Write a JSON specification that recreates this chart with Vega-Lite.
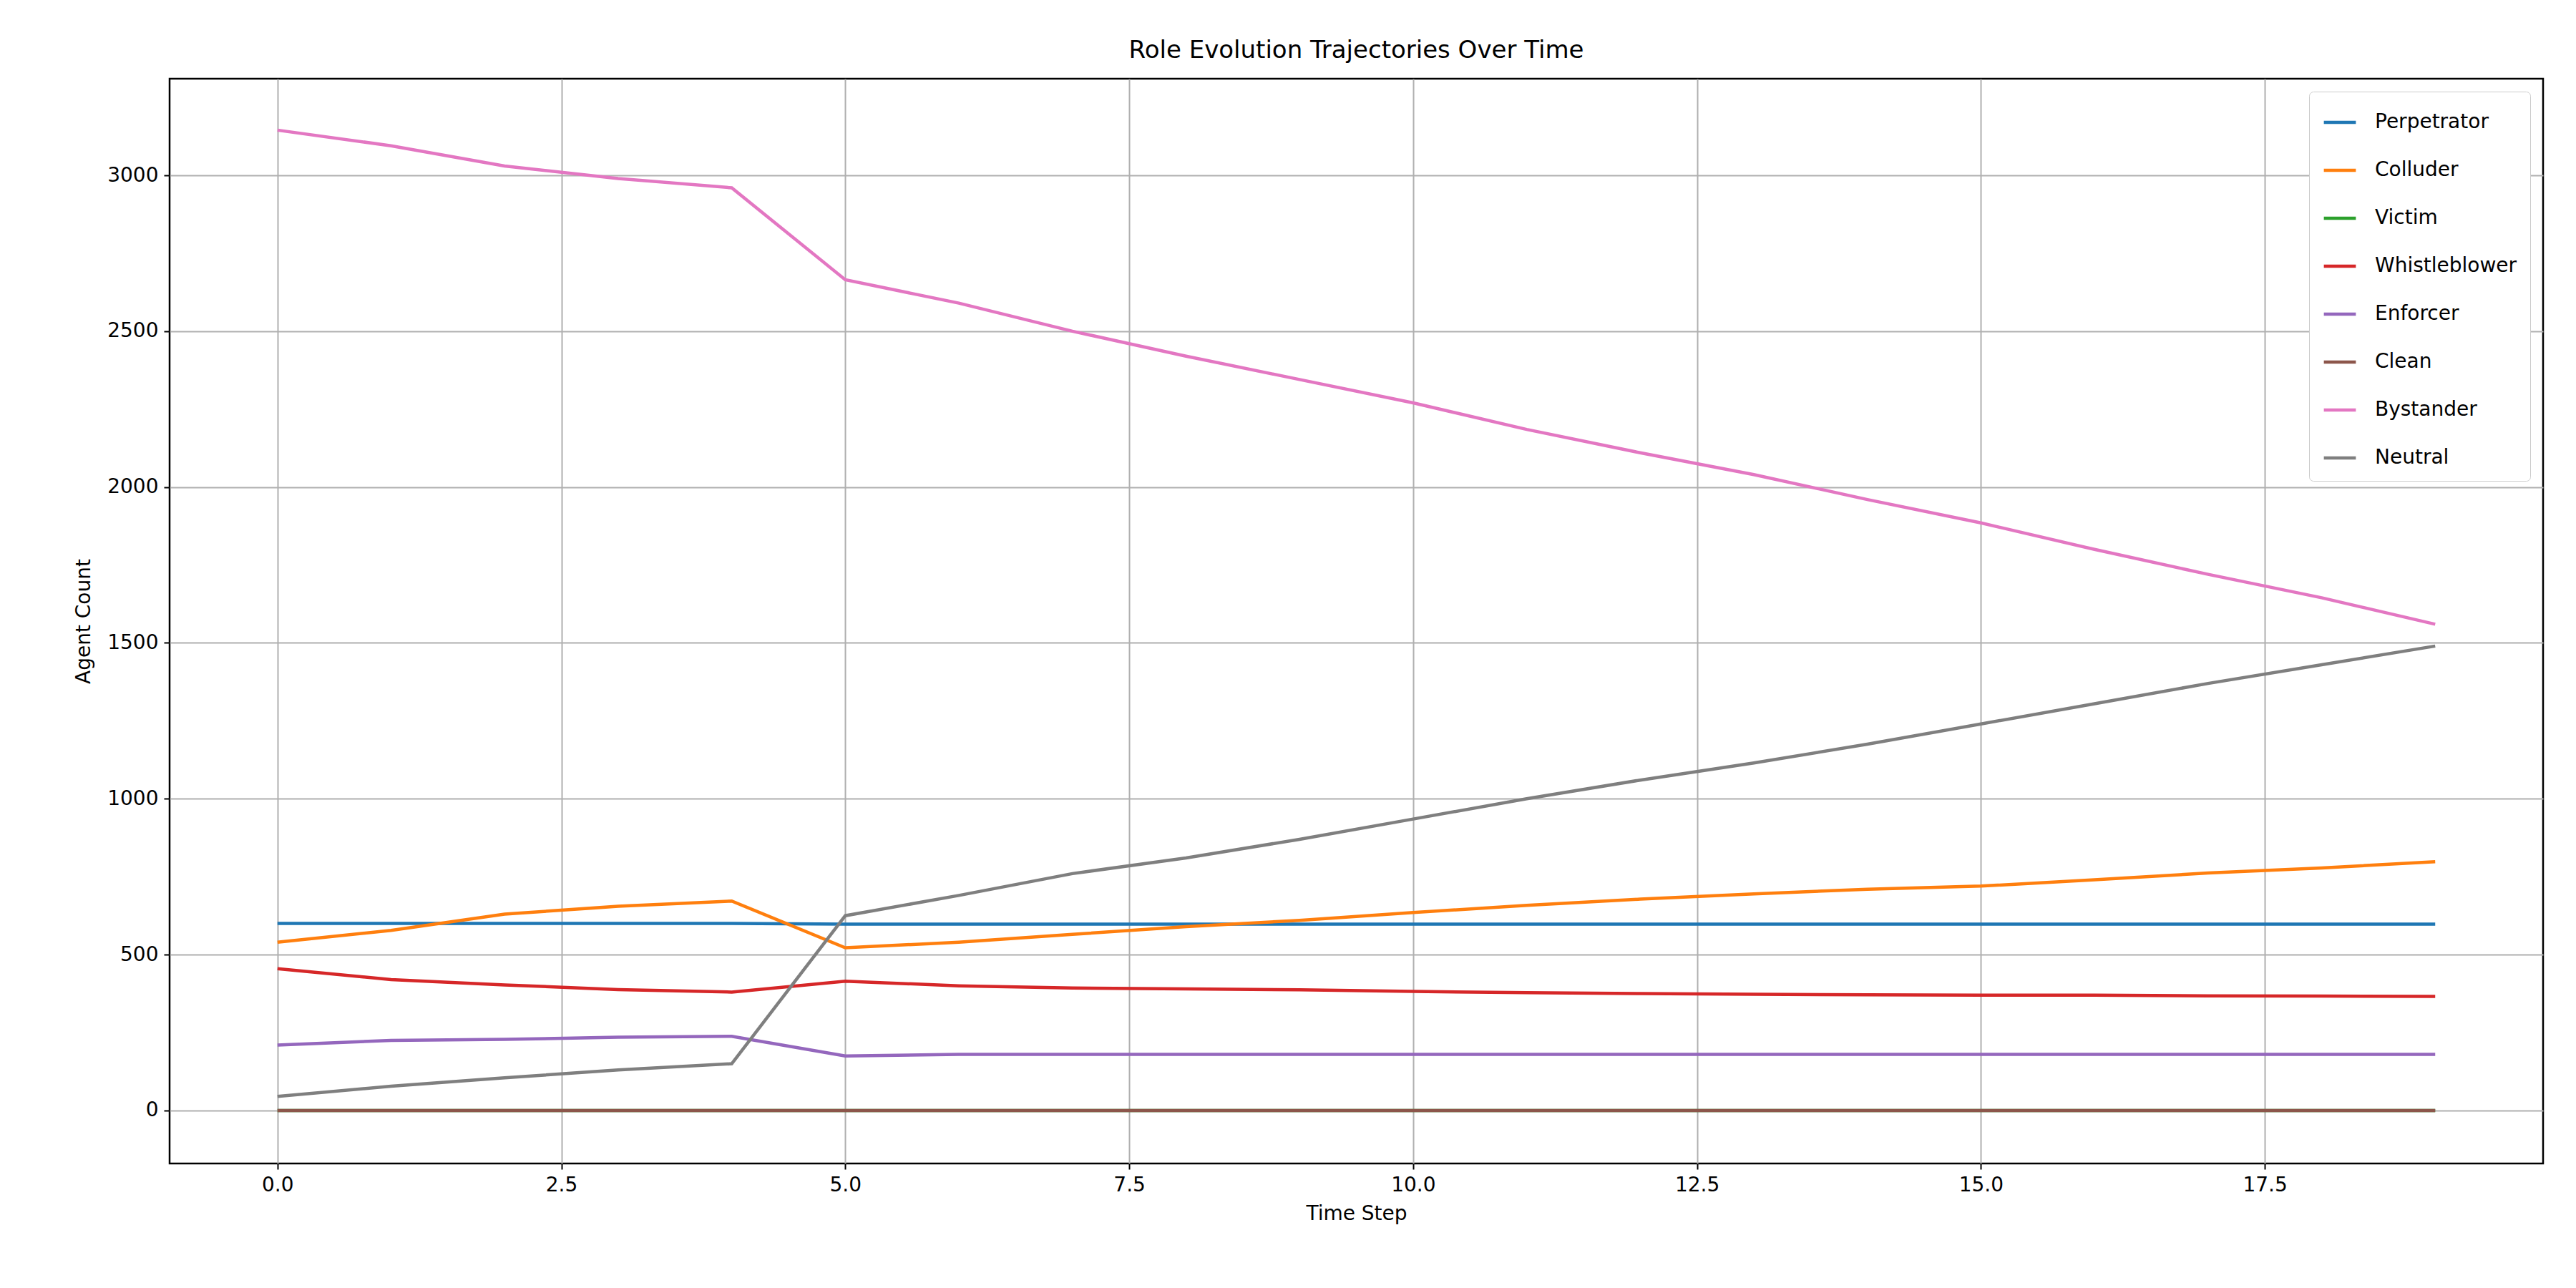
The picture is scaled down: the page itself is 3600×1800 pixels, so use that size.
{"$schema":"https://vega.github.io/schema/vega-lite/v6.json","width":3317,"height":1516,"autosize":"none","padding":{"left":237,"top":110,"right":46,"bottom":174},"background":"white",
"title":{"text":"Role Evolution Trajectories Over Time","fontSize":34,"font":"DejaVu Sans","fontWeight":"normal","offset":22},
"config":{"font":"DejaVu Sans","view":{"stroke":"black","strokeWidth":2.5},"axis":{"labelFontSize":28,"titleFontSize":28,"titleFontWeight":"normal","grid":true,"gridColor":"#b0b0b0","gridWidth":2,"domain":false,"tickColor":"black","tickSize":8,"tickWidth":2,"labelColor":"black","titleColor":"black","labelPadding":8}},
"data":{"values":[
{"t":0,"r":"Perpetrator","v":600},{"t":1,"r":"Perpetrator","v":600},{"t":2,"r":"Perpetrator","v":600},{"t":3,"r":"Perpetrator","v":600},{"t":4,"r":"Perpetrator","v":600},{"t":5,"r":"Perpetrator","v":598},{"t":6,"r":"Perpetrator","v":598},{"t":7,"r":"Perpetrator","v":598},{"t":8,"r":"Perpetrator","v":598},{"t":9,"r":"Perpetrator","v":598},{"t":10,"r":"Perpetrator","v":598},{"t":11,"r":"Perpetrator","v":598},{"t":12,"r":"Perpetrator","v":598},{"t":13,"r":"Perpetrator","v":598},{"t":14,"r":"Perpetrator","v":598},{"t":15,"r":"Perpetrator","v":598},{"t":16,"r":"Perpetrator","v":598},{"t":17,"r":"Perpetrator","v":598},{"t":18,"r":"Perpetrator","v":598},{"t":19,"r":"Perpetrator","v":598},
{"t":0,"r":"Colluder","v":540},{"t":1,"r":"Colluder","v":578},{"t":2,"r":"Colluder","v":630},{"t":3,"r":"Colluder","v":655},{"t":4,"r":"Colluder","v":672},{"t":5,"r":"Colluder","v":522},{"t":6,"r":"Colluder","v":540},{"t":7,"r":"Colluder","v":565},{"t":8,"r":"Colluder","v":590},{"t":9,"r":"Colluder","v":610},{"t":10,"r":"Colluder","v":635},{"t":11,"r":"Colluder","v":658},{"t":12,"r":"Colluder","v":678},{"t":13,"r":"Colluder","v":695},{"t":14,"r":"Colluder","v":710},{"t":15,"r":"Colluder","v":720},{"t":16,"r":"Colluder","v":740},{"t":17,"r":"Colluder","v":762},{"t":18,"r":"Colluder","v":778},{"t":19,"r":"Colluder","v":798},
{"t":0,"r":"Victim","v":0},{"t":19,"r":"Victim","v":0},
{"t":0,"r":"Whistleblower","v":455},{"t":1,"r":"Whistleblower","v":420},{"t":2,"r":"Whistleblower","v":403},{"t":3,"r":"Whistleblower","v":388},{"t":4,"r":"Whistleblower","v":380},{"t":5,"r":"Whistleblower","v":415},{"t":6,"r":"Whistleblower","v":400},{"t":7,"r":"Whistleblower","v":393},{"t":8,"r":"Whistleblower","v":390},{"t":9,"r":"Whistleblower","v":387},{"t":10,"r":"Whistleblower","v":382},{"t":11,"r":"Whistleblower","v":378},{"t":12,"r":"Whistleblower","v":375},{"t":13,"r":"Whistleblower","v":373},{"t":14,"r":"Whistleblower","v":371},{"t":15,"r":"Whistleblower","v":370},{"t":16,"r":"Whistleblower","v":370},{"t":17,"r":"Whistleblower","v":368},{"t":18,"r":"Whistleblower","v":367},{"t":19,"r":"Whistleblower","v":366},
{"t":0,"r":"Enforcer","v":210},{"t":1,"r":"Enforcer","v":225},{"t":2,"r":"Enforcer","v":228},{"t":3,"r":"Enforcer","v":235},{"t":4,"r":"Enforcer","v":238},{"t":5,"r":"Enforcer","v":175},{"t":6,"r":"Enforcer","v":180},{"t":7,"r":"Enforcer","v":180},{"t":8,"r":"Enforcer","v":180},{"t":9,"r":"Enforcer","v":180},{"t":10,"r":"Enforcer","v":180},{"t":11,"r":"Enforcer","v":180},{"t":12,"r":"Enforcer","v":180},{"t":13,"r":"Enforcer","v":180},{"t":14,"r":"Enforcer","v":180},{"t":15,"r":"Enforcer","v":180},{"t":16,"r":"Enforcer","v":180},{"t":17,"r":"Enforcer","v":180},{"t":18,"r":"Enforcer","v":180},{"t":19,"r":"Enforcer","v":180},
{"t":0,"r":"Clean","v":0},{"t":19,"r":"Clean","v":0},
{"t":0,"r":"Bystander","v":3145},{"t":1,"r":"Bystander","v":3095},{"t":2,"r":"Bystander","v":3030},{"t":3,"r":"Bystander","v":2990},{"t":4,"r":"Bystander","v":2960},{"t":5,"r":"Bystander","v":2665},{"t":6,"r":"Bystander","v":2590},{"t":7,"r":"Bystander","v":2500},{"t":8,"r":"Bystander","v":2420},{"t":9,"r":"Bystander","v":2345},{"t":10,"r":"Bystander","v":2270},{"t":11,"r":"Bystander","v":2185},{"t":12,"r":"Bystander","v":2110},{"t":13,"r":"Bystander","v":2040},{"t":14,"r":"Bystander","v":1960},{"t":15,"r":"Bystander","v":1885},{"t":16,"r":"Bystander","v":1800},{"t":17,"r":"Bystander","v":1720},{"t":18,"r":"Bystander","v":1645},{"t":19,"r":"Bystander","v":1560},
{"t":0,"r":"Neutral","v":45},{"t":1,"r":"Neutral","v":78},{"t":2,"r":"Neutral","v":105},{"t":3,"r":"Neutral","v":130},{"t":4,"r":"Neutral","v":150},{"t":5,"r":"Neutral","v":625},{"t":6,"r":"Neutral","v":690},{"t":7,"r":"Neutral","v":760},{"t":8,"r":"Neutral","v":810},{"t":9,"r":"Neutral","v":870},{"t":10,"r":"Neutral","v":935},{"t":11,"r":"Neutral","v":1000},{"t":12,"r":"Neutral","v":1060},{"t":13,"r":"Neutral","v":1115},{"t":14,"r":"Neutral","v":1175},{"t":15,"r":"Neutral","v":1240},{"t":16,"r":"Neutral","v":1305},{"t":17,"r":"Neutral","v":1370},{"t":18,"r":"Neutral","v":1430},{"t":19,"r":"Neutral","v":1490}
]},
"mark":{"type":"line","strokeWidth":4.5},
"encoding":{
"x":{"field":"t","type":"quantitative","title":"Time Step","scale":{"domain":[-0.95,19.95],"nice":false,"zero":false},"axis":{"values":[0,2.5,5,7.5,10,12.5,15,17.5],"format":".1f","titlePadding":12}},
"y":{"field":"v","type":"quantitative","title":"Agent Count","scale":{"domain":[-170,3310],"nice":false,"zero":false},"axis":{"values":[0,500,1000,1500,2000,2500,3000],"format":"d","titlePadding":18}},
"color":{"field":"r","type":"nominal","sort":["Perpetrator","Colluder","Victim","Whistleblower","Enforcer","Clean","Bystander","Neutral"],"scale":{"domain":["Perpetrator","Colluder","Victim","Whistleblower","Enforcer","Clean","Bystander","Neutral"],"range":["#1f77b4","#ff7f0e","#2ca02c","#d62728","#9467bd","#8c564b","#e377c2","#7f7f7f"]},
"legend":{"title":null,"orient":"top-right","offset":18,"labelFontSize":28,"labelLimit":600,"symbolType":"stroke","symbolStrokeWidth":4.5,"symbolSize":2000,"rowPadding":28,"labelOffset":24,"strokeColor":"#cccccc","fillColor":"white","padding":18,"cornerRadius":6}}
}}
